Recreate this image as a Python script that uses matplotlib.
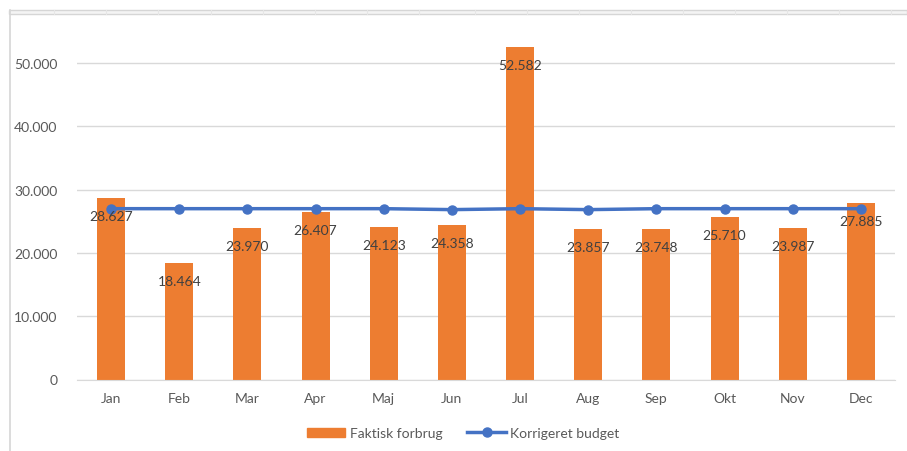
import matplotlib
matplotlib.use("Agg")
import matplotlib.pyplot as plt
from matplotlib.lines import Line2D
from matplotlib.patches import Patch, Rectangle

months = ["Jan", "Feb", "Mar", "Apr", "Maj", "Jun", "Jul", "Aug", "Sep", "Okt", "Nov", "Dec"]
faktisk = [28627, 18464, 23970, 26407, 24123, 24358, 52582, 23857, 23748, 25710, 23987, 27885]
budget = [27000, 27000, 27000, 27000, 27000, 26850, 27000, 26850, 27000, 27000, 27000, 27000]
yticks = [0, 10000, 20000, 30000, 40000, 50000]

def fmt(v):
    return f"{v:,}".replace(",", ".")

plt.rcParams['font.family'] = ['Lato', 'DejaVu Sans']

W, H = 907, 452
fig = plt.figure(figsize=(W / 100, H / 100), dpi=100)
fig.patch.set_facecolor("white")

left, right, bottom, top = 77, 895, 380.5, 30
ax = fig.add_axes([left / W, 1 - bottom / H, (right - left) / W, (bottom - top) / H])

x = list(range(len(months)))
orange = "#ED7D31"
blue = "#4472C4"
ax.bar(x, faktisk, width=0.41, color=orange, zorder=2)
ax.plot(x, budget, color=blue, lw=2.5, marker="o", ms=6.5, zorder=3)

for xi, v in zip(x, faktisk):
    ax.annotate(fmt(v), (xi, v), xytext=(0, -18), textcoords="offset pixels",
                ha="center", va="center", fontsize=10, color="#404040", zorder=4)

ax.set_xlim(-0.5, len(months) - 0.5)
ax.set_ylim(0, 55400)
ax.set_yticks(yticks)
ax.set_yticklabels([fmt(t) for t in yticks])
ax.set_xticks(x)
ax.set_xticklabels(months)
ax.tick_params(axis="both", length=0, colors="#595959", labelsize=10)
ax.tick_params(axis="y", pad=14)
ax.tick_params(axis="x", pad=9)
ax.grid(axis="y", color="#D9D9D9", lw=1, zorder=0)
for s in ["top", "right", "left"]:
    ax.spines[s].set_visible(False)
ax.spines["bottom"].set_color("#D9D9D9")

handles = [Patch(color=orange, label="Faktisk forbrug"),
           Line2D([0], [0], color=blue, lw=2.5, marker="o", ms=6.5, label="Korrigeret budget")]
fig.legend(handles=handles, loc="center", bbox_to_anchor=(463 / W, 1 - 434 / H), ncol=2,
           frameon=False, fontsize=10, handlelength=2.8, handleheight=0.6, columnspacing=1.8,
           handletextpad=0.3, labelcolor="#595959")

fig.add_artist(Rectangle((9 / W, 1 - 15 / H), (W - 9) / W, 4 / H, transform=fig.transFigure,
                         facecolor="#F4F4F4", edgecolor="#D6D6D6", lw=1))
fig.add_artist(Line2D([9.5 / W, 9.5 / W], [0, 1 - 11 / H], transform=fig.transFigure,
                      color="#D6D6D6", lw=1.2))
for cx in [54, 106, 158, 211, 263, 315, 367, 419, 475, 527, 579, 631, 683, 735, 787, 839, 891]:
    fig.add_artist(Line2D([cx / W, cx / W], [1 - 15 / H, 1 - 11 / H], transform=fig.transFigure,
                          color="#E6E6E6", lw=0.8))

fig.savefig("out.png", dpi=100)
